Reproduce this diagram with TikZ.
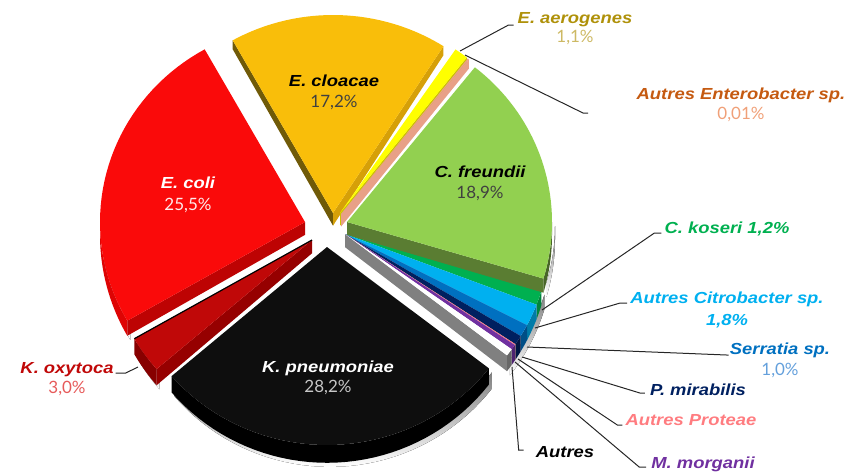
\documentclass[tikz,border=0pt]{standalone}
\usepackage{fontspec}
\setmainfont{Liberation Sans}
\newfontfamily\namefont{Liberation Sans}[FakeStretch=1.15]
\newfontfamily\pctfont{Lato}
\usetikzlibrary{positioning}

% slice colours
\definecolor{cloacaetop}{RGB}{249,190,10}
\definecolor{cloacaeleft}{RGB}{112,90,8}
\definecolor{cloacaeright}{RGB}{214,160,8}
\definecolor{aertop}{RGB}{255,255,0}
\definecolor{aerside}{RGB}{205,195,0}
\definecolor{entside}{RGB}{232,160,135}
\definecolor{fretop}{RGB}{146,208,80}
\definecolor{freside}{RGB}{90,125,50}
\definecolor{kostop}{RGB}{0,176,80}
\definecolor{cittop}{RGB}{0,176,240}
\definecolor{sertop}{RGB}{0,112,192}
\definecolor{mirtop}{RGB}{0,32,96}
\definecolor{protop}{RGB}{255,124,128}
\definecolor{mortop}{RGB}{112,48,160}
\definecolor{autside}{RGB}{128,128,128}
\definecolor{kpntop}{RGB}{14,14,14}
\definecolor{oxytop}{RGB}{192,8,8}
\definecolor{oxyside}{RGB}{150,0,0}
\definecolor{colitop}{RGB}{250,10,10}
\definecolor{coliside}{RGB}{222,4,4}
\definecolor{shade}{RGB}{205,205,205}
% label colours
\definecolor{aertext}{RGB}{175,145,10}
\definecolor{aerpct}{RGB}{205,185,100}
\definecolor{enttext}{RGB}{197,90,17}
\definecolor{entpct}{RGB}{240,160,120}
\definecolor{serpct}{RGB}{100,160,220}
\definecolor{oxypct}{RGB}{230,90,90}
\definecolor{darkpct}{RGB}{64,64,64}

\def\pieRx{205}
\def\pieRy{198}
\pgfmathdeclarefunction{dep}{1}{\pgfmathparse{8+0.022*#1}}

% apex x, apex y, from, to, colour
\newcommand{\slicetop}[5]{%
  \fill[#5] (#1,#2) -- plot[domain=#3:#4,samples=40] ({#1+\pieRx*sin(\x)},{#2-\pieRy*cos(\x)}) -- cycle;}
\newcommand{\slicewall}[5]{%
  \fill[#5] plot[domain=#3:#4,samples=40] ({#1+\pieRx*sin(\x)},{#2-\pieRy*cos(\x)})
    -- plot[domain=#4:#3,samples=40] ({#1+\pieRx*sin(\x)},{#2-\pieRy*cos(\x)+dep(#2-\pieRy*cos(\x))}) -- cycle;}
% apex x, apex y, angle, colour
\newcommand{\sliceface}[4]{%
  \fill[#4] (#1,#2) -- ({#1+\pieRx*sin(#3)},{#2-\pieRy*cos(#3)})
    -- ++(0,{dep(#2-\pieRy*cos(#3))}) -- (#1,{#2+dep(#2)}) -- cycle;}

\tikzset{
  name label/.style={
    font=\namefont\bfseries\itshape\fontsize{16}{19}\selectfont,
    inner sep=0pt,
    anchor=base,
  },
  pct label/.style={
    font=\pctfont\fontsize{17}{20}\selectfont,
    inner sep=0pt,
    anchor=base,
  },
  leader/.style={
    draw=black!85,
    line width=1pt,
  }
}

\begin{document}
\begin{tikzpicture}[x=1pt,y=-1pt]
        \useasboundingbox (0,0) rectangle (851,475);

        % soft shadows
        \slicewall{330}{251}{127.8}{229.3}{shade}
        \slicewall{315}{244}{229.3}{240.1}{shade}
        \slicewall{308}{226}{240.1}{270}{shade}
        \slicewall{350}{226}{90}{106.6}{shade}
        \slicewall{348}{238}{106.6}{127.8}{shade}

        % back slices
        \sliceface{333}{213}{-29.3}{cloacaeleft}
        \sliceface{333}{213}{32.6}{cloacaeright}
        \slicetop{333}{213}{-29.3}{32.6}{cloacaetop}
        \sliceface{340}{213}{38.2}{aerside}
        \slicetop{340}{213}{34.3}{38.2}{aertop}
        \sliceface{341}{214}{38.6}{entside}
        \slicetop{341}{214}{38.2}{38.6}{entside}
        \slicewall{305}{222}{240.1}{270}{coliside}
        \sliceface{305}{222}{240.1}{coliside!85!black}
        \slicetop{305}{222}{240.1}{330.7}{colitop}

        % small slices
        \slicewall{345}{234}{106.6}{110.9}{kostop!75!black}
        \slicetop{345}{234}{106.6}{110.9}{kostop}
        \slicewall{345}{234}{110.9}{117.4}{cittop!70!black}
        \slicetop{345}{234}{110.9}{117.4}{cittop}
        \slicewall{345}{234}{117.4}{121.0}{sertop!70!black}
        \slicetop{345}{234}{117.4}{121.0}{sertop}
        \slicewall{345}{234}{121.0}{123.8}{mirtop!70!black}
        \slicetop{345}{234}{121.0}{123.8}{mirtop}
        \slicewall{345}{234}{123.8}{124.1}{protop!70!black}
        \slicetop{345}{234}{123.8}{124.1}{protop}
        \slicewall{345}{234}{124.1}{125.6}{mortop!70!black}
        \slicetop{345}{234}{124.1}{125.6}{mortop}
        \slicewall{345}{234}{125.6}{127.8}{autside!80!black}
        \sliceface{345}{234}{127.8}{autside}
        \slicetop{345}{234}{125.6}{127.8}{white}

        \slicewall{347}{222}{90}{106.6}{freside!80!black}
        \sliceface{347}{222}{106.6}{freside}
        \slicetop{347}{222}{38.6}{106.6}{fretop}

        % front slices
        \slicewall{312}{240}{229.3}{240.1}{oxyside!90!black}
        \sliceface{312}{240}{229.3}{oxyside}
        \slicetop{312}{240}{229.3}{240.1}{oxytop}
        \draw [shade, line width=1.2pt] (312,240) -- ({312+\pieRx*sin(240.1)},{240-\pieRy*cos(240.1)});
        \slicewall{327}{247}{127.8}{229.3}{black}
        \slicetop{327}{247}{127.8}{229.3}{kpntop}

        % labels on the slices
        \node [name label] (cloacae) at (334,86) {E. cloacae};
        \node [pct label, text=darkpct] (cloacaepct) at ([yshift=-21pt]cloacae.base) {17,2\%};
        \node [name label] (freundii) at (480,177) {C. freundii};
        \node [pct label, text=darkpct] (freundiipct) at ([yshift=-21pt]freundii.base) {18,9\%};
        \node [name label, text=white] (coli) at (188,188) {E. coli};
        \node [pct label, text=white!92!red] (colipct) at ([yshift=-22pt]coli.base) {25,5\%};
        \node [name label, text=white] (kpn) at (328,372) {K. pneumoniae};
        \node [pct label, text=white!78!black] (kpnpct) at ([yshift=-20pt]kpn.base) {28,2\%};

        % outside labels
        \node [name label, text=aertext] (aer) at (575,23) {E. aerogenes};
        \node [pct label, text=aerpct] (aerpct) at ([yshift=-19pt]aer.base) {1,1\%};
        \node [name label, text=enttext] (ent) at (741,99) {Autres Enterobacter sp.};
        \node [pct label, text=entpct] (entpct) at ([yshift=-20pt]ent.base) {0,01\%};
        \node [name label, text=kostop] (kos) at (727,233) {C. koseri 1,2\%};
        \node [name label, text=cittop] (cit) at (727,303) {Autres Citrobacter sp.};
        \node [name label, text=cittop] (citpct) at ([yshift=-22pt]cit.base) {1,8\%};
        \node [name label, text=sertop] (ser) at (780,354) {Serratia sp.};
        \node [pct label, text=serpct] (serpct) at ([yshift=-21pt]ser.base) {1,0\%};
        \node [name label, text=mirtop] (mir) at (698,395) {P. mirabilis};
        \node [name label, text=protop] (pro) at (691,425) {Autres Proteae};
        \node [name label] (aut) at (565,457) {Autres};
        \node [name label, text=mortop] (mor) at (703,468) {M. morganii};
        \node [name label, text=oxytop] (oxy) at (67,373) {K. oxytoca};
        \node [pct label, text=oxypct] (oxypct) at ([yshift=-20pt]oxy.base) {3,0\%};

        % leader lines
        \coordinate (aertip) at (460,51);
        \coordinate (enttip) at (465,55);
        \coordinate (entend) at (588,113);
        \coordinate (kostip) at (542,310);
        \coordinate (cittip) at (535,328);
        \coordinate (sertip) at (527,347);
        \coordinate (mirtip) at (522,357);
        \coordinate (protip) at (518,359);
        \coordinate (mortip) at (515,362);
        \coordinate (auttip) at (512,367);
        \coordinate (oxytip) at (138,367);
        \draw [leader] (aertip) -- ([xshift=-9pt,yshift=-2pt]aer.base west) -- ([xshift=-4pt,yshift=-2pt]aer.base west);
        \draw [leader] (enttip) -- ([xshift=-5pt]entend) -- (entend);
        \draw [leader] (kostip) -- ([xshift=-10pt]kos.base west) -- ([xshift=-3pt]kos.base west);
        \draw [leader] (cittip) -- ([xshift=-10pt]cit.base west) -- ([xshift=-3pt]cit.base west);
        \draw [leader] (sertip) -- ([xshift=-3pt,yshift=-1pt]ser.base west) -- ([xshift=-1pt,yshift=-1pt]ser.base west);
        \draw [leader] (mirtip) -- ([xshift=-10pt,yshift=2pt]mir.base west) -- ([xshift=-5pt,yshift=2pt]mir.base west);
        \draw [leader] (protip) -- ([xshift=-8pt]pro.base west) -- ([xshift=-3pt]pro.base west);
        \draw [leader] (mortip) -- ([xshift=-12pt,yshift=1pt]mor.base west) -- ([xshift=-5pt,yshift=1pt]mor.base west);
        \draw [leader] (auttip) -- ([xshift=-17pt,yshift=7pt]aut.base west) -- ([xshift=-12pt,yshift=7pt]aut.base west);
        \draw [leader] (oxytip) -- ([xshift=12pt]oxy.base east) -- ([xshift=2pt]oxy.base east);
    \end{tikzpicture}
\end{document}
